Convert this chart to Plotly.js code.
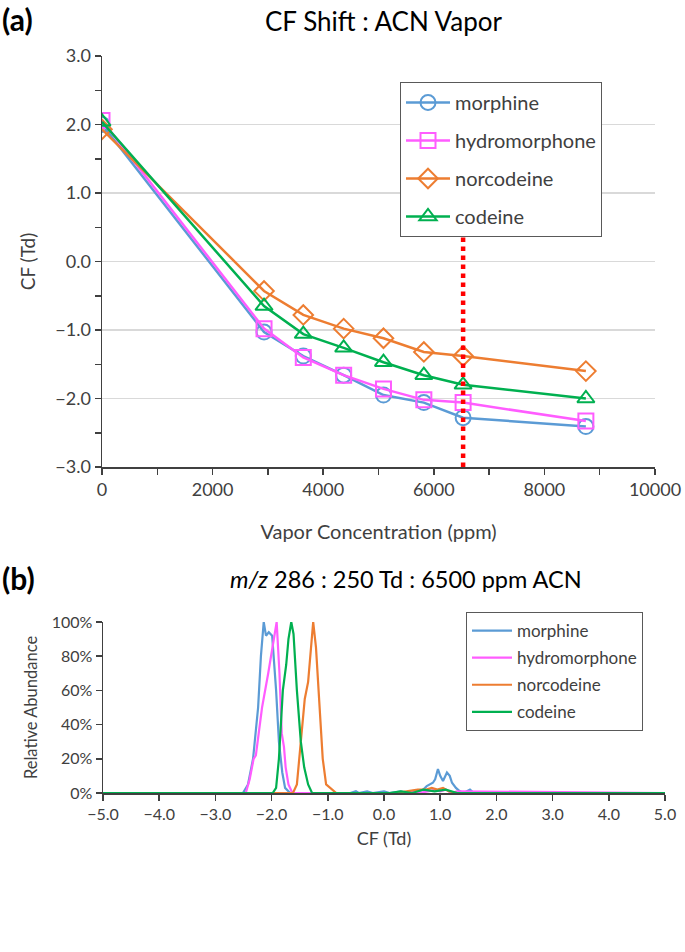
<!DOCTYPE html>
<html><head><meta charset="utf-8">
<script src="https://cdn.plot.ly/plotly-3.0.1.min.js"></script>
<style>html,body{margin:0;padding:0;background:#fff}#chart{width:685px;height:952px}</style>
</head><body><div id="chart"></div>
<script>
// ---- Panel (a): CF shift vs ACN vapor concentration ----
const conc = [0, 2930, 3640, 4370, 5090, 5820, 6530, 8750];
const morphineCF = [2.00, -1.03, -1.38, -1.66, -1.95, -2.06, -2.28, -2.41];
const hydromorphoneCF = [2.06, -0.98, -1.40, -1.66, -1.86, -2.02, -2.06, -2.33];
const norcodeineCF = [1.93, -0.43, -0.78, -0.98, -1.12, -1.32, -1.38, -1.60];
const codeineCF = [2.04, -0.65, -1.06, -1.26, -1.47, -1.66, -1.80, -2.00];
const markerConc = [6530, 6530];
const markerCF = [-3.0, 0.95];

// ---- Panel (b): ionogram at 6500 ppm ACN ----
const morphX = [-5.0, -2.6, -2.51, -2.42, -2.33, -2.24, -2.19, -2.14, -2.10, -2.05, -1.99, -1.92, -1.87, -1.81, -1.76, -1.67, -0.6, -0.5, -0.45, -0.3, -0.2, 0.0, 0.1, 0.3, 0.4, 0.6, 0.7, 0.76, 0.82, 0.87, 0.91, 0.96, 1.00, 1.05, 1.12, 1.17, 1.21, 1.28, 1.35, 1.42, 1.53, 1.60, 1.70, 5.0];
const morphY = [0, 0, 0.00, 0.05, 0.20, 0.50, 0.80, 1.00, 0.92, 0.94, 0.92, 0.60, 0.30, 0.12, 0.03, 0, 0, 0.01, 0, 0.01, 0, 0.01, 0, 0.01, 0, 0.01, 0.02, 0.04, 0.05, 0.06, 0.08, 0.14, 0.10, 0.07, 0.12, 0.10, 0.06, 0.03, 0.01, 0.00, 0.02, 0.00, 0, 0];
const hydroX = [-5.0, -2.6, -2.46, -2.39, -2.32, -2.28, -2.17, -2.06, -2.01, -1.91, -1.86, -1.82, -1.78, -1.75, -1.70, -1.63, 0.4, 0.5, 0.6, 0.8, 0.9, 1.0, 1.1, 1.2, 1.3, 5.0];
const hydroY = [0, 0, 0.00, 0.08, 0.20, 0.22, 0.50, 0.70, 0.80, 1.00, 0.70, 0.35, 0.27, 0.15, 0.05, 0, 0, 0.01, 0, 0.01, 0.02, 0.01, 0.02, 0.00, 0.01, 0];
const norX = [-5.0, -1.7, -1.62, -1.55, -1.48, -1.41, -1.35, -1.31, -1.26, -1.21, -1.14, -1.09, -1.03, -0.96, -0.85, 0.2, 0.4, 0.6, 0.75, 0.85, 0.95, 1.05, 1.15, 1.3, 5.0];
const norY = [0, 0, 0.00, 0.05, 0.30, 0.55, 0.65, 0.80, 1.00, 0.85, 0.50, 0.20, 0.05, 0.03, 0, 0, 0.01, 0.02, 0.02, 0.03, 0.02, 0.03, 0.01, 0, 0];
const codX = [-5.0, -2.05, -1.98, -1.92, -1.87, -1.80, -1.74, -1.70, -1.65, -1.61, -1.55, -1.48, -1.42, -1.35, -1.28, 0.1, 0.3, 0.5, 0.7, 0.9, 1.1, 1.3, 5.0];
const codY = [0, 0, 0.00, 0.03, 0.20, 0.60, 0.75, 0.90, 1.00, 0.93, 0.60, 0.30, 0.15, 0.05, 0, 0, 0.01, 0, 0.02, 0.01, 0.02, 0, 0];

const names = ['morphine', 'hydromorphone', 'norcodeine', 'codeine'];
const colors = ['#5B9BD5', '#FF5CFF', '#ED7D31', '#00B050'];
const symbols = ['circle-open', 'square-open', 'diamond-open', 'triangle-up-open'];

const topY = [morphineCF, hydromorphoneCF, norcodeineCF, codeineCF];
const botX = [morphX, hydroX, norX, codX];
const botY = [morphY, hydroY, norY, codY];

const traces = [];
topY.forEach((ys, i) => {
  traces.push({
    type: 'scatter', mode: 'lines+markers', x: conc, y: ys, name: names[i],
    xaxis: 'x', yaxis: 'y', legend: 'legend', legendgroup: 'a' + i,
    line: {color: colors[i], width: 2.5},
    marker: {symbol: symbols[i], size: 15, color: colors[i], line: {color: colors[i], width: 2}}
  });
});
traces.push({
  type: 'scatter', mode: 'lines', x: markerConc, y: markerCF, showlegend: false,
  xaxis: 'x', yaxis: 'y', line: {color: '#FF0000', width: 4.5, dash: 'dot'}, hoverinfo: 'skip'
});
botY.forEach((ys, i) => {
  traces.push({
    type: 'scatter', mode: 'lines', x: botX[i], y: ys, name: names[i],
    xaxis: 'x2', yaxis: 'y2', legend: 'legend2', legendgroup: 'b' + i,
    line: {color: colors[i], width: 2.2}
  });
});

const axisCol = '#404040';
const tickFontTop = {family: 'Lato, sans-serif', size: 18, color: '#404040'};
const tickFontBot = {family: 'Lato, sans-serif', size: 16, color: '#404040'};
const layout = {
  width: 685, height: 952,
  margin: {l: 0, r: 0, t: 0, b: 0},
  paper_bgcolor: '#fff', plot_bgcolor: '#fff',
  font: {family: 'Lato, sans-serif', size: 16, color: '#404040'},
  xaxis: {
    domain: [102/685, 655/685], anchor: 'y', range: [0, 10000],
    tick0: 0, dtick: 2000, tickformat: 'd', ticks: 'outside', ticklen: 6, tickwidth: 1.5, tickcolor: axisCol,
    minor: {dtick: 1000, ticks: 'outside', ticklen: 6, tickwidth: 1.5, tickcolor: axisCol, showgrid: false},
    showline: true, linecolor: axisCol, linewidth: 1.5, showgrid: false, zeroline: false,
    tickfont: tickFontTop,
    title: {text: 'Vapor Concentration (ppm)', font: {size: 20, color: '#404040'}, standoff: 26}
  },
  yaxis: {
    domain: [1 - 467/952, 1 - 56/952], anchor: 'x', range: [-3, 3],
    dtick: 1, tickformat: '.1f', ticks: 'outside', ticklen: 6, tickwidth: 1.5, tickcolor: axisCol,
    minor: {dtick: 0.5, ticks: 'outside', ticklen: 6, tickwidth: 1.5, tickcolor: axisCol, showgrid: false},
    showline: true, linecolor: axisCol, linewidth: 1.5, showgrid: true, gridcolor: '#D9D9D9', gridwidth: 1.2, zeroline: false,
    tickfont: tickFontTop,
    title: {text: 'CF (Td)', font: {size: 19, color: '#404040'}, standoff: 14}
  },
  xaxis2: {
    domain: [103/685, 665/685], anchor: 'y2', range: [-5, 5],
    dtick: 1, tickformat: '.1f', ticks: 'outside', ticklen: 6, tickwidth: 1.5, tickcolor: axisCol,
    showline: true, linecolor: axisCol, linewidth: 1.5, showgrid: false, zeroline: false,
    tickfont: tickFontBot,
    title: {text: 'CF (Td)', font: {size: 18, color: '#404040'}, standoff: 10}
  },
  yaxis2: {
    domain: [1 - 793/952, 1 - 622/952], anchor: 'x2', range: [0, 1],
    dtick: 0.2, tickformat: '.0%', ticks: 'outside', ticklen: 6, tickwidth: 1.5, tickcolor: axisCol,
    showline: true, linecolor: axisCol, linewidth: 1.5, showgrid: false, zeroline: false,
    tickfont: tickFontBot,
    title: {text: 'Relative Abundance', font: {size: 16.5, color: '#404040'}, standoff: 10}
  },
  legend: {
    x: 400/685, y: 1 - 82/952, xanchor: 'left', yanchor: 'top',
    bordercolor: '#595959', borderwidth: 1, bgcolor: '#fff',
    font: {family: 'Lato, sans-serif', size: 20, color: '#404040'},
    traceorder: 'grouped', tracegroupgap: 9, itemwidth: 44
  },
  legend2: {
    x: 466/685, y: 1 - 612/952, xanchor: 'left', yanchor: 'top',
    bordercolor: '#595959', borderwidth: 1, bgcolor: '#fff',
    font: {family: 'Lato, sans-serif', size: 17, color: '#404040'},
    traceorder: 'grouped', tracegroupgap: 2, itemwidth: 40
  },
  annotations: [
    {text: '<b>(a)</b>', xref: 'paper', yref: 'paper', x: 0, y: 1 - 19/952, xanchor: 'left', yanchor: 'middle', showarrow: false, font: {family: 'Lato, sans-serif', size: 30, color: '#000'}},
    {text: 'CF Shift : ACN Vapor', xref: 'paper', yref: 'paper', x: 383/685, y: 1 - 21/952, xanchor: 'center', yanchor: 'middle', showarrow: false, font: {family: 'Lato, sans-serif', size: 26, color: '#000'}},
    {text: '<b>(b)</b>', xref: 'paper', yref: 'paper', x: 0, y: 1 - 578/952, xanchor: 'left', yanchor: 'middle', showarrow: false, font: {family: 'Lato, sans-serif', size: 30, color: '#000'}},
    {text: '<i>m/z</i> 286 : 250 Td : 6500 ppm ACN', xref: 'paper', yref: 'paper', x: 406/685, y: 1 - 579/952, xanchor: 'center', yanchor: 'middle', showarrow: false, font: {family: 'Lato, sans-serif', size: 23.5, color: '#000'}}
  ]
};

Plotly.newPlot('chart', traces, layout, {displayModeBar: false, staticPlot: true});
</script>
</body></html>
